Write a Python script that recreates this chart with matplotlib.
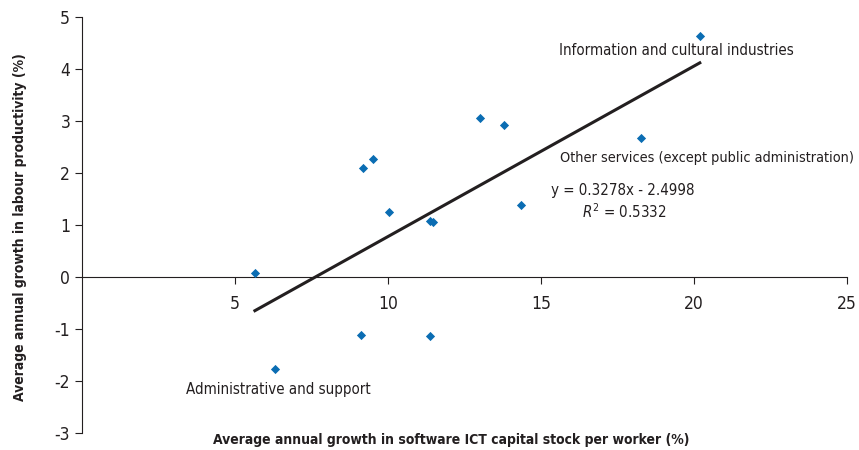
import matplotlib.pyplot as plt
import numpy as np

plt.rcParams['font.family'] = ['DejaVu Sans']
plt.rcParams['font.stretch'] = 'condensed'
plt.rcParams['axes.unicode_minus'] = False

# software ICT capital stock growth vs labour productivity growth, by industry
ict_growth = [5.65, 6.31, 9.12, 9.19, 9.52, 10.04, 11.37, 11.46, 11.38, 13.0, 13.79, 14.36, 18.26, 20.19]
prod_growth = [0.08, -1.77, -1.12, 2.10, 2.27, 1.25, 1.07, 1.05, -1.13, 3.06, 2.92, 1.38, 2.67, 4.63]

# trend line as reported on the chart
slope = 0.3278
intercept = -2.4998
r_squared = 0.5332

x_ticks = [5, 10, 15, 20, 25]
y_ticks = [-3, -2, -1, 0, 1, 2, 3, 4, 5]

fig = plt.figure(figsize=(8.59, 4.5), dpi=100)
ax = fig.add_axes([0.0955, 0.0378, 0.8905, 0.9244])

ax.scatter(ict_growth, prod_growth, marker='D', s=22, color='#0b6db3', zorder=3, linewidths=0)

x_fit = np.array([min(ict_growth), max(ict_growth)])
ax.plot(x_fit, slope * x_fit + intercept, color='#231f20', lw=2.2, zorder=2)

ax.set_xlim(0, 25)
ax.set_ylim(-3, 5)
ax.spines['top'].set_visible(False)
ax.spines['right'].set_visible(False)
ax.spines['bottom'].set_position(('data', 0))
ax.spines['left'].set_color('#231f20')
ax.spines['bottom'].set_color('#231f20')
ax.set_xticks(x_ticks)
ax.set_yticks(y_ticks)
ax.tick_params(axis='both', direction='out', length=5, color='#231f20',
               labelsize=12.5, labelcolor='#231f20')
ax.tick_params(axis='x', pad=8)

lab = dict(fontsize=10.8, color='#231f20')
ax.text(15.59, 4.35, 'Information and cultural industries', ha='left', va='center', **lab)
ax.text(25.24, 2.29, 'Other services (except public administration)', ha='right', va='center',
        clip_on=False, fontsize=10.4, color='#231f20')
ax.text(17.68, 1.67, 'y = %.4fx - %.4f' % (slope, -intercept), ha='center', va='center', **lab)
ax.text(17.73, 1.25, '$R^2$ = %.4f' % r_squared, ha='center', va='center', **lab)
ax.text(3.40, -2.17, 'Administrative and support', ha='left', va='center', **lab)

fig.text(0.525, 0.022, 'Average annual growth in software ICT capital stock per worker (%)',
         ha='center', va='center', fontsize=10, fontweight='bold', color='#231f20')
fig.text(0.023, 0.495, 'Average annual growth in labour productivity (%)', rotation=90,
         ha='center', va='center', fontsize=10, fontweight='bold', color='#231f20')

fig.savefig('out.png', dpi=100)
